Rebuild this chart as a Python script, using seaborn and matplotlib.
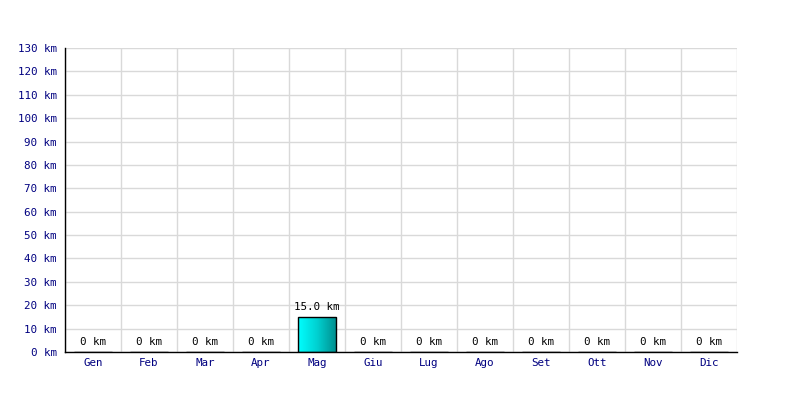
import matplotlib
matplotlib.use("Agg")
import matplotlib.pyplot as plt
import seaborn as sns
import numpy as np
import pandas as pd
from matplotlib.colors import LinearSegmentedColormap

months = ["Gen", "Feb", "Mar", "Apr", "Mag", "Giu", "Lug", "Ago", "Set", "Ott", "Nov", "Dic"]
distances = [0, 0, 0, 0, 15.0, 0, 0, 0, 0, 0, 0, 0]
value_labels = ["0 km", "0 km", "0 km", "0 km", "15.0 km", "0 km", "0 km", "0 km", "0 km", "0 km", "0 km", "0 km"]
y_ticks = list(range(0, 131, 10))

sns.set_theme(style="white")
plt.rcParams['font.family'] = ['DejaVu Sans Mono', 'DejaVu Sans']

df = pd.DataFrame({"month": months, "km": distances})

fig = plt.figure(figsize=(8, 4), dpi=100)
ax = fig.add_axes([65/800, 48/400, 672/800, 304/400])

sns.barplot(data=df, x="month", y="km", ax=ax, width=0.68, color="#00cccc",
            edgecolor="black", linewidth=1.0, zorder=3)

ax.set_xlim(-0.5, len(months) - 0.5)
ax.set_ylim(0, 130)
ax.set_yticks(y_ticks)
ax.set_yticklabels([f"{v} km" for v in y_ticks])

# grid
for xb in np.arange(-0.5, len(months), 1.0):
    ax.axvline(xb, color="#d9d9d9", lw=1, zorder=0)
for yv in y_ticks:
    ax.axhline(yv, color="#d9d9d9", lw=1, zorder=0)

for s in ["top", "right"]:
    ax.spines[s].set_visible(False)
for s in ["left", "bottom"]:
    ax.spines[s].set_color("black")
    ax.spines[s].set_linewidth(1.0)
    ax.spines[s].set_zorder(5)

ax.tick_params(axis="both", length=0, labelsize=7.8, colors="#000080")
ax.tick_params(axis="y", pad=6)
ax.tick_params(axis="x", pad=4)
ax.set_xlabel("")
ax.set_ylabel("")

# gradient fill for bars
cmap = LinearSegmentedColormap.from_list("g", ["#00ffff", "#00d0d0", "#008c8c"])
grad = np.linspace(0, 1, 256).reshape(1, -1)
for patch in ax.patches:
    h = patch.get_height()
    if h <= 0:
        continue
    x0 = patch.get_x()
    w = patch.get_width()
    im = ax.imshow(grad, extent=[x0, x0 + w, 0, h], aspect="auto", cmap=cmap,
                   origin="lower", zorder=3.5)
    im.set_clip_path(patch)
    patch.set_facecolor("none")
    patch.set_zorder(4)

ax.set_xlim(-0.5, len(months) - 0.5)
ax.set_ylim(0, 130)

for i, (v, lab) in enumerate(zip(distances, value_labels)):
    ax.text(i, v + 4.2, lab, ha="center", va="center", fontsize=7.8, color="black", zorder=6)

fig.savefig("out.png", dpi=100)
